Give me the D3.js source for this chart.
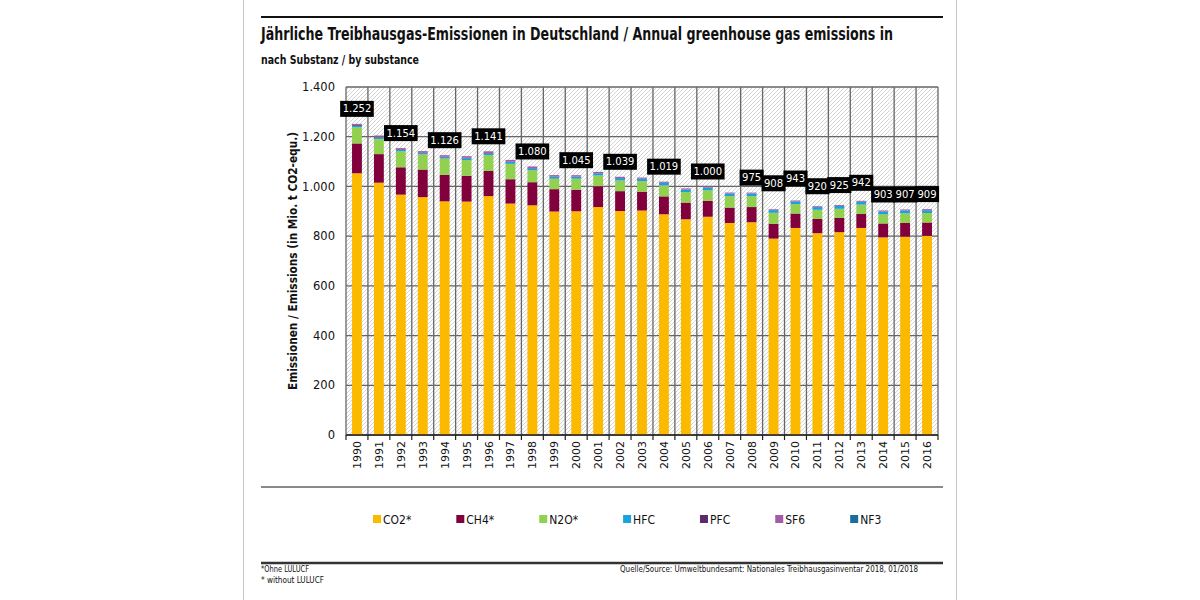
<!DOCTYPE html>
<html><head><meta charset="utf-8">
<script src="https://cdn.jsdelivr.net/npm/d3@7"></script>
<style>
html,body{margin:0;padding:0;background:#fff;}
svg{display:block;}
</style>
</head><body>
<svg id="chart" width="1200" height="600"></svg>
<script>
// ---- data ----
const years = ["1990","1991","1992","1993","1994","1995","1996","1997","1998","1999","2000","2001","2002","2003","2004","2005","2006","2007","2008","2009","2010","2011","2012","2013","2014","2015","2016"];
const co2 = [1053,1015,967,957,940,939,961,931,924,899,900,917,901,903,888,868,878,853,856,790,833,812,816,833,795,798,801];
const ch4 = [120,115,110,111,107,104,101,98,93,90,87,84,80,76,72,67,64,62,61,60,58,57,57,56,56,55,54];
const n2o = [65,61,64,61,65,63,64,62,48,42,44,43,43,42,44,42,43,46,44,44,38,37,37,38,37,39,38];
const hfc = [6.2,6.3,5.5,5.0,5.5,7.5,7.0,7.5,7.7,7.8,8.0,8.6,9.2,9.5,9.8,10.1,10.2,10.3,10.4,10.5,10.7,10.8,11.0,11.1,11.1,11.0,11.2];
const pfc = [3.1,2.8,2.6,2.5,2.2,1.8,1.6,1.5,1.3,1.2,0.9,0.8,0.8,0.8,0.8,0.7,0.6,0.5,0.4,0.3,0.3,0.3,0.3,0.3,0.3,0.3,0.3];
const sf6 = [4.4,4.8,5.1,5.5,6.0,6.5,6.7,6.6,6.3,5.6,5.3,4.9,4.7,4.4,4.5,4.1,3.9,3.5,3.3,3.2,3.3,3.2,3.6,3.7,3.8,4.0,4.2];
const nf3 = [0.02,0.02,0.02,0.02,0.02,0.02,0.02,0.02,0.02,0.02,0.02,0.03,0.03,0.03,0.03,0.04,0.04,0.04,0.05,0.05,0.05,0.05,0.05,0.05,0.05,0.05,0.05];
const seriesNames = ["CO2*","CH4*","N2O*","HFC","PFC","SF6","NF3"];
const labeledYears = ["1990","1992","1994","1996","1998","2000","2002","2004","2006","2008","2009","2010","2011","2012","2013","2014","2015","2016"];
const yTicks = [0,200,400,600,800,1000,1200,1400];

const titleText = "Jährliche Treibhausgas-Emissionen in Deutschland / Annual greenhouse gas emissions in";
const subtitleText = "nach Substanz / by substance";
const yTitle = "Emissionen / Emissions (in Mio. t CO2-equ.)";
const foot1 = "*Ohne LULUCF";
const foot2 = "* without LULUCF";
const sourceText = "Quelle/Source: Umweltbundesamt: Nationales Treibhausgasinventar 2018, 01/2018";

// ---- styles ----
const colors = ["#FBBA00","#82003C","#92D050","#1BA1DC","#5A2D6A","#A65BA8","#1A6E9C"];
const condensed = "'Liberation Sans Narrow','DejaVu Sans Condensed','Roboto Condensed',sans-serif";
const wide = "'DejaVu Sans',Verdana,sans-serif";

const seriesArrays = [co2,ch4,n2o,hfc,pfc,sf6,nf3];
const rows = years.map((y,i)=>{
  const r = {year:y};
  seriesNames.forEach((s,k)=>r[s]=seriesArrays[k][i]);
  return r;
});
const stack = d3.stack().keys(seriesNames)(rows);
const totals = rows.map(r=>d3.sum(seriesNames,s=>r[s]));

const de = d3.formatLocale({decimal:",",thousands:".",grouping:[3],currency:["","€"]});
const fmt = de.format(",.0f");

const svg = d3.select("#chart");
const L=346,R=938,T=87,B=435;
const x = d3.scaleBand().domain(years).range([L,R]).paddingInner(0.55).paddingOuter(0.275);
const y = d3.scaleLinear().domain([0,1400]).range([B,T]);

// page frame
svg.append("line").attr("x1",243.5).attr("x2",243.5).attr("y1",0).attr("y2",600).attr("stroke","#c8c8c8");
svg.append("line").attr("x1",956.5).attr("x2",956.5).attr("y1",0).attr("y2",600).attr("stroke","#c8c8c8");

// top rule + titles
svg.append("line").attr("x1",261).attr("x2",943).attr("y1",17).attr("y2",17).attr("stroke","#111").attr("stroke-width",2);
svg.append("text").attr("x",261).attr("y",40).attr("font-family",condensed).attr("font-weight","bold")
  .attr("font-size",18).attr("fill","#111").attr("textLength",632).attr("lengthAdjust","spacingAndGlyphs").text(titleText);
svg.append("text").attr("x",261).attr("y",64).attr("font-family",condensed).attr("font-weight","bold")
  .attr("font-size",12).attr("fill","#111").attr("textLength",158).attr("lengthAdjust","spacingAndGlyphs").text(subtitleText);

// hatch pattern
const defs = svg.append("defs");
const pat = defs.append("pattern").attr("id","hatch").attr("patternUnits","userSpaceOnUse")
  .attr("width",4).attr("height",4);
pat.append("rect").attr("width",4).attr("height",4).attr("fill","#fff");
pat.append("path").attr("d","M-1,1 l2,-2 M0,4 l4,-4 M3,5 l2,-2").attr("stroke","#c8c8c8").attr("stroke-width",0.8);

svg.append("rect").attr("x",L).attr("y",T).attr("width",R-L).attr("height",B-T).attr("fill","url(#hatch)");

// gridlines
const step = x.step();
const bounds = d3.range(years.length+1).map(i=>L+i*step);
svg.append("g").selectAll("line").data(bounds).join("line")
  .attr("x1",d=>d).attr("x2",d=>d).attr("y1",T).attr("y2",B)
  .attr("stroke","#666").attr("stroke-width",1.3);
svg.append("g").selectAll("line").data(yTicks).join("line")
  .attr("x1",L).attr("x2",R).attr("y1",d=>y(d)).attr("y2",d=>y(d))
  .attr("stroke","#666").attr("stroke-width",1.3);

// bars
svg.append("g").selectAll("g").data(stack).join("g").attr("fill",(d,i)=>colors[i])
  .selectAll("rect").data(d=>d).join("rect")
  .attr("x",d=>x(d.data.year)).attr("width",x.bandwidth())
  .attr("y",d=>y(d[1])).attr("height",d=>Math.max(0,y(d[0])-y(d[1])));

// y axis
const yAxis = d3.axisLeft(y).tickValues(yTicks).tickFormat(fmt).tickSize(0).tickPadding(11);
const gy = svg.append("g").attr("transform",`translate(${L},0)`).call(yAxis);
gy.select(".domain").remove();
gy.selectAll("text").attr("font-family",wide).attr("font-size",11.5).attr("fill","#111");

// x axis
const gx = svg.append("g");
gx.append("line").attr("x1",L).attr("x2",R).attr("y1",B).attr("y2",B).attr("stroke","#222").attr("stroke-width",1.5);
gx.selectAll("line.tk").data(bounds).join("line").attr("class","tk")
  .attr("x1",d=>d).attr("x2",d=>d).attr("y1",B).attr("y2",B+5).attr("stroke","#222").attr("stroke-width",1.2);
gx.selectAll("text").data(years).join("text")
  .attr("transform",d=>`translate(${x(d)+x.bandwidth()/2+4},${B+6}) rotate(-90)`)
  .attr("text-anchor","end").attr("font-family",wide).attr("font-size",11).attr("fill","#111").text(d=>d);

// y title
svg.append("text").attr("transform","translate(297,261) rotate(-90)").attr("text-anchor","middle")
  .attr("font-family",condensed).attr("font-weight","bold").attr("font-size",12.5).attr("fill","#111")
  .attr("textLength",258).attr("lengthAdjust","spacingAndGlyphs").text(yTitle);

// total labels
const labelNudge = {"2009":-11,"2010":-7,"2011":-5,"2012":-5,"2013":-3,"2014":-1};
const lg = svg.append("g");
labeledYears.forEach(yr=>{
  const i = years.indexOf(yr);
  const cx = x(yr)+x.bandwidth()/2;
  const cy = y(totals[i]) - 15 + (labelNudge[yr]||0);
  const g = lg.append("g");
  const t = g.append("text").attr("x",cx).attr("y",cy+3.6).attr("text-anchor","middle")
    .attr("font-family",wide).attr("font-size",10).attr("fill","#fff").text(fmt(totals[i]));
  const w = t.node().getComputedTextLength()+5;
  g.insert("rect","text").attr("x",cx-w/2).attr("y",cy-8).attr("width",w).attr("height",16).attr("fill","#000");
});

// separator lines
svg.append("line").attr("x1",261).attr("x2",943).attr("y1",487).attr("y2",487).attr("stroke","#8a8a8a").attr("stroke-width",2);
svg.append("line").attr("x1",261).attr("x2",943).attr("y1",563).attr("y2",563).attr("stroke","#333").attr("stroke-width",2.5);

// legend
const leg = svg.append("g");
let lx = 373;
seriesNames.forEach((s,i)=>{
  leg.append("rect").attr("x",lx).attr("y",515).attr("width",8).attr("height",8).attr("fill",colors[i]);
  const t = leg.append("text").attr("x",lx+10).attr("y",523.5).attr("font-family",condensed)
    .attr("font-size",12).attr("fill","#111").text(s);
  lx += 10 + t.node().getComputedTextLength() + 45;
});

// footnotes
svg.append("text").attr("x",261).attr("y",572).attr("font-family",condensed).attr("font-size",9).attr("fill","#111")
  .attr("textLength",48).attr("lengthAdjust","spacingAndGlyphs").text(foot1);
svg.append("text").attr("x",261).attr("y",583).attr("font-family",condensed).attr("font-size",9).attr("fill","#111")
  .attr("textLength",63).attr("lengthAdjust","spacingAndGlyphs").text(foot2);
svg.append("text").attr("x",918).attr("y",572).attr("text-anchor","end").attr("font-family",condensed).attr("font-size",9).attr("fill","#111")
  .attr("textLength",298).attr("lengthAdjust","spacingAndGlyphs").text(sourceText);
</script>
</body></html>
